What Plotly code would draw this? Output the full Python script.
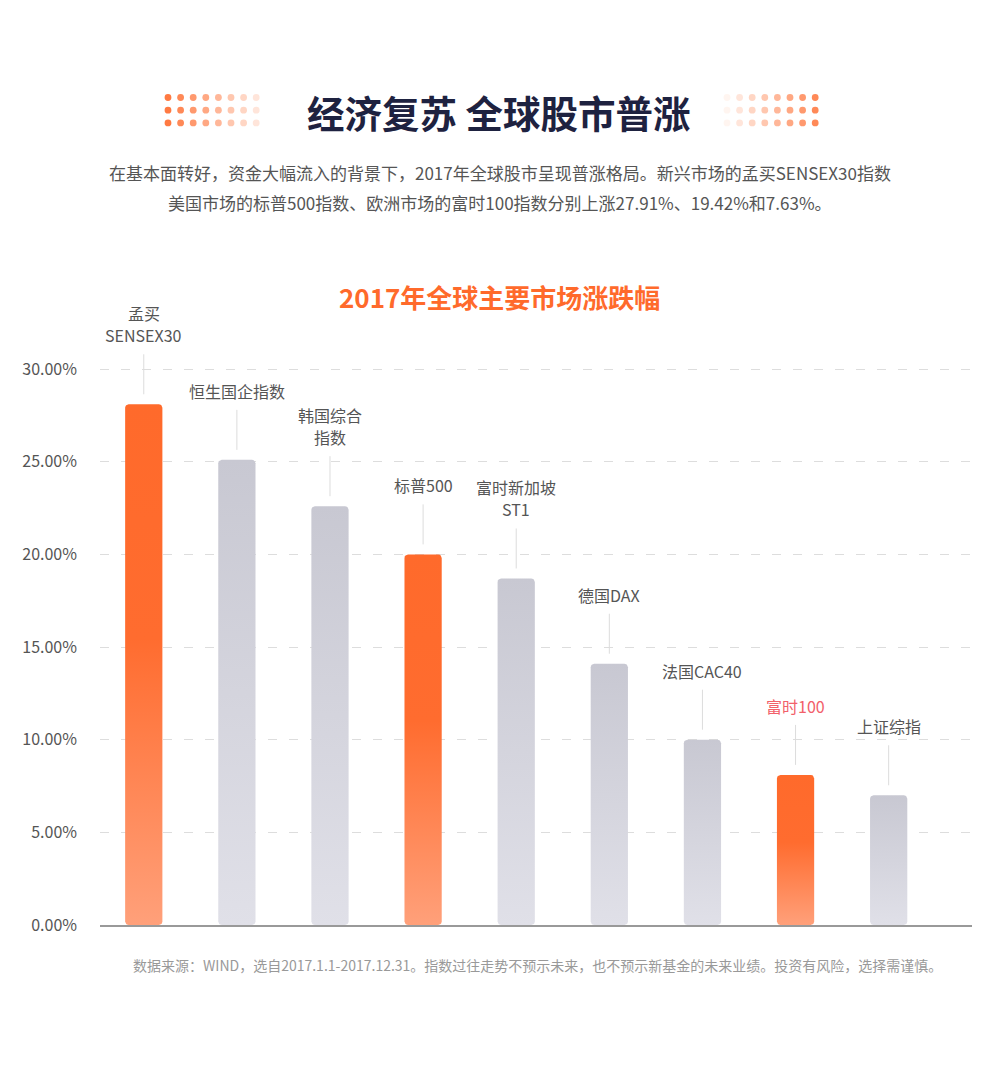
import math
import plotly.graph_objects as go

# ── 数据 ─────────────────────────────────────────────
CATEGORIES = ['孟买<br>SENSEX30', '恒生国企指数', '韩国综合<br>指数', '标普500',
              '富时新加坡<br>ST1', '德国DAX', '法国CAC40', '富时100', '上证综指']
CHANGE_PCT = [28.1, 25.1, 22.6, 20.0, 18.7, 14.1, 10.0, 8.1, 7.0]
HIGHLIGHT = [True, False, False, True, False, False, False, True, False]
RED_LABELS = ['富时100']
Y_TICKS = [0, 5, 10, 15, 20, 25, 30]
Y_TICK_TEXT = [f'{t:.2f}%' for t in Y_TICKS]

TITLE = '经济复苏 全球股市普涨'
SUBTITLE_1 = '在基本面转好，资金大幅流入的背景下，2017年全球股市呈现普涨格局。新兴市场的孟买SENSEX30指数'
SUBTITLE_2 = '美国市场的标普500指数、欧洲市场的富时100指数分别上涨27.91%、19.42%和7.63%。'
CHART_TITLE = '2017年全球主要市场涨跌幅'
FOOTNOTE = '数据来源：WIND，选自2017.1.1-2017.12.31。指数过往走势不预示未来，也不预示新基金的未来业绩。投资有风险，选择需谨慎。'

# ── 样式 ─────────────────────────────────────────────
FONT = 'Noto Sans CJK SC'
ORANGE_SCALE = [[0, '#FFA07A'], [0.55, '#FF6C2F'], [1, '#FF6A2B']]
GRAY_SCALE = [[0, '#E0E0E8'], [1, '#C8C8D2']]
BAR_W = 0.4

# 页面 body 自带 8px 外边距，画布整体偏移，坐标按参考图像素再减去它
OFFSET = 8
W, H = 1000 - OFFSET, 1070 - OFFSET
PLOT_LEFT, PLOT_RIGHT = 100 - OFFSET, 972 - OFFSET
PLOT_TOP, PLOT_BOTTOM = 332 - OFFSET, 925 - OFFSET
Y_MAX = 32
X_RANGE = [-0.47, 8.895]

# 圆角半径（像素 → 数据单位）
UNIT_X = (PLOT_RIGHT - PLOT_LEFT) / (X_RANGE[1] - X_RANGE[0])
UNIT_Y = (PLOT_BOTTOM - PLOT_TOP) / Y_MAX
R_PX = 3.5
LINE_GAP = 22  # 多行标签行距（像素）


def px(p):
    return (p - OFFSET - PLOT_LEFT) / (PLOT_RIGHT - PLOT_LEFT)


def py(p):
    return (PLOT_BOTTOM - (p - OFFSET)) / (PLOT_BOTTOM - PLOT_TOP)


def rounded_bar(center, top):
    """逆时针走一圈：左下 → 右下 → 右上 → 左上"""
    rx, ry = R_PX / UNIT_X, R_PX / UNIT_Y
    x0, x1 = center - BAR_W / 2, center + BAR_W / 2
    corners = [(x0 + rx, ry, 180), (x1 - rx, ry, 270),
               (x1 - rx, top - ry, 0), (x0 + rx, top - ry, 90)]
    xs, ys = [], []
    for cx, cy, a0 in corners:
        for k in range(7):
            a = math.radians(a0 + k * 15)
            xs.append(cx + rx * math.cos(a))
            ys.append(cy + ry * math.sin(a))
    xs.append(xs[0])
    ys.append(ys[0])
    return xs, ys


fig = go.Figure()

# ── 柱子（垂直渐变）──────────────────────────────────
for i, (v, hi) in enumerate(zip(CHANGE_PCT, HIGHLIGHT)):
    xs, ys = rounded_bar(i, v)
    fig.add_trace(go.Scatter(
        x=xs, y=ys,
        mode='lines', fill='toself',
        line=dict(width=0),
        fillgradient=dict(type='vertical', colorscale=ORANGE_SCALE if hi else GRAY_SCALE),
        hoverinfo='skip', showlegend=False,
    ))

# ── 引线 + 标签 ──────────────────────────────────────
for i, (cat, v) in enumerate(zip(CATEGORIES, CHANGE_PCT)):
    fig.add_shape(
        type='line', xref='x', yref='y',
        x0=i, x1=i, ysizemode='pixel', yanchor=v, y0=10, y1=50,
        line=dict(color='#DCDCDC', width=1),
    )
    color = '#F2606A' if cat in RED_LABELS else '#555555'
    lines = cat.split('<br>')
    for j, line in enumerate(lines):
        fig.add_annotation(
            x=i, y=v, xref='x', yref='y', yanchor='bottom', borderpad=0,
            yshift=56 + (len(lines) - 1 - j) * LINE_GAP,
            text=line, showarrow=False,
            font=dict(family=FONT, size=16, color=color),
        )

# ── 标题区 ───────────────────────────────────────────
def header_text(x, y, text, size, color):
    fig.add_annotation(x=px(x), y=py(y), xref='paper', yref='paper',
                       xanchor='center', yanchor='middle',
                       text=text, showarrow=False,
                       font=dict(family=FONT, size=size, color=color))


header_text(499, 111, f'<b>{TITLE}</b>', 37.5, '#1E2240')
header_text(500, 172, SUBTITLE_1, 17, '#555555')
header_text(500, 202, SUBTITLE_2, 17, '#555555')
header_text(499, 297, f'<b>{CHART_TITLE}</b>', 26, '#FF6A2B')
header_text(537, 965, FOOTNOTE, 14, '#999999')

# 标题两侧的渐隐圆点
for row in range(3):
    for k in range(8):
        fade = 1 - k / 8 * 0.92
        for x_c, op in ((168 + k * 12.6, fade), (727 + k * 12.6, 1.08 - fade)):
            fig.add_shape(
                type='circle', xref='paper', yref='paper',
                xsizemode='pixel', ysizemode='pixel',
                xanchor=px(x_c), yanchor=py(97.5 + row * 12.7),
                x0=-3.4, x1=3.4, y0=-3.4, y1=3.4,
                fillcolor='#FF7A42', opacity=op, line=dict(width=0),
            )

fig.update_layout(
    width=W, height=H,
    margin=dict(l=PLOT_LEFT, r=W - PLOT_RIGHT, t=PLOT_TOP, b=H - PLOT_BOTTOM),
    plot_bgcolor='white', paper_bgcolor='white',
    font=dict(family=FONT, color='#555555'),
    xaxis=dict(
        range=X_RANGE, showticklabels=False, showgrid=False,
        zeroline=False, showline=True, linecolor='#999999', linewidth=1.5,
        fixedrange=True,
    ),
    yaxis=dict(
        range=[0, Y_MAX], tickmode='array', tickvals=Y_TICKS, ticktext=Y_TICK_TEXT,
        showgrid=True, gridcolor='#DDDDDD', gridwidth=1, griddash='9px,12px',
        zeroline=False, showline=False, ticklabelstandoff=22,
        tickfont=dict(family=FONT, size=16, color='#555555'),
        fixedrange=True,
    ),
    showlegend=False,
)

fig.write_html('out.html')
